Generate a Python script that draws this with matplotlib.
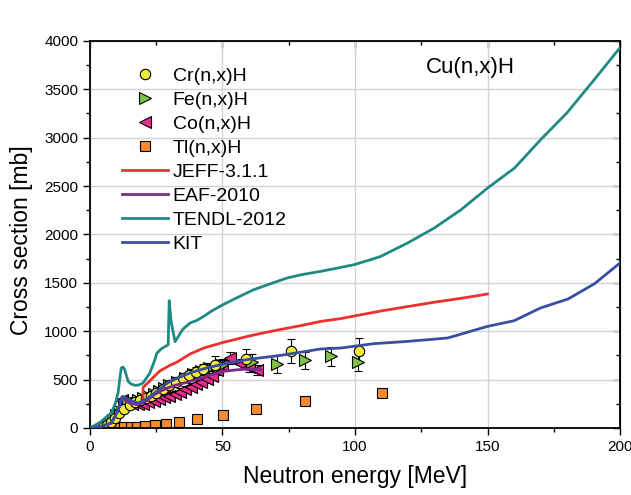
import numpy as np
import matplotlib
matplotlib.use("Agg")
import matplotlib.pyplot as plt
from matplotlib.lines import Line2D
from matplotlib.ticker import MultipleLocator

plt.rcParams['font.family'] = ['Liberation Sans', 'DejaVu Sans']

cr_e = [5, 6.5, 8, 9.5, 11, 13, 15, 17, 19, 21, 23, 25, 27.5, 30, 32.5, 35, 37.5, 40, 42.5, 47, 59, 76, 101.5]
cr_y = [10, 30, 60, 100, 150, 200, 240, 270, 290, 310, 335, 365, 400, 440, 480, 515, 545, 580, 610, 655, 715, 795, 800]
cr_err = [5, 5, 8, 10, 15, 20, 20, 25, 25, 25, 30, 30, 35, 35, 40, 40, 45, 45, 50, 90, 100, 125, 125]

fe_e = [7, 8.5, 10, 11.5, 13, 14.5, 16, 18, 20, 22, 24, 26, 28, 30, 33, 36, 39, 42, 45, 50, 61, 70.6, 81, 91, 101]
fe_y = [40, 80, 130, 180, 220, 250, 270, 290, 310, 330, 350, 380, 410, 440, 480, 520, 560, 590, 620, 650, 685, 660, 700, 740, 685]
fe_err = [5, 8, 12, 15, 20, 20, 20, 25, 25, 25, 30, 30, 35, 35, 40, 40, 45, 45, 50, 60, 80, 90, 90, 95, 95]

co_e = [12, 14, 16, 18, 20, 22, 24, 26, 28, 30, 32, 34, 36, 38, 40, 42, 44, 46, 48, 50, 53, 57, 60, 63]
co_y = [290, 265, 250, 245, 250, 265, 280, 295, 315, 335, 355, 375, 400, 425, 455, 480, 505, 540, 600, 650, 722, 660, 625, 600]
co_err = [20, 20, 20, 20, 20, 25, 25, 25, 30, 30, 30, 35, 35, 35, 40, 40, 40, 45, 50, 55, 60, 50, 50, 50]

tl_e = [10.3, 12.8, 15.3, 17.8, 20.8, 24.4, 28.6, 33.5, 40.4, 50.3, 62.6, 81, 110]
tl_y = [3, 5, 8, 12, 18, 27, 45, 62, 88, 130, 196, 275, 362]
tl_err = [1, 1, 2, 2, 3, 3, 5, 20, 22, 25, 20, 20, 20]

# evaluated data
jeff_e = [20, 20.05, 22, 24.5, 26.4, 30, 32.8, 37.8, 42.9, 50.2, 60, 68.1, 80, 87, 94.6, 100.3, 110, 120, 130, 140, 150]
jeff_y = [290, 420, 470, 540, 590, 645, 680, 765, 826, 884, 950, 998, 1060, 1101, 1130, 1160, 1210, 1255, 1300, 1340, 1384]

eaf_e = [0, 4.3, 8.1, 10.6, 12, 13.5, 15, 18, 21.4, 24, 27.7, 32, 37.8, 44, 50.4, 55, 59.3, 62, 64.3]
eaf_y = [0, 17, 50, 180, 320, 280, 255, 240, 280, 340, 396, 440, 481, 535, 585, 600, 609, 606, 602]

tendl_e = [0, 2, 4.3, 6, 8.1, 9.5, 10.6, 11.3, 11.8, 12.5, 13.1, 14.4, 15.5, 17, 18.5, 20, 21.4, 22.6,
           24.5, 25.2, 27, 29.5, 29.9, 30.6, 32.1, 35, 37.8, 40.2, 42.9, 46, 50.2, 55, 61.8, 67, 74.4,
           80, 87, 93, 99.6, 105.9, 109.7, 119.8, 129.9, 140, 150, 160.2, 170, 180, 190, 200]
tendl_y = [0, 30, 68, 110, 155, 250, 362, 520, 620, 630, 602, 481, 455, 440, 445, 465, 520, 568,
           706, 772, 820, 860, 1316, 1100, 892, 1020, 1085, 1110, 1153, 1210, 1274, 1340, 1429, 1480, 1550,
           1585, 1618, 1650, 1687, 1739, 1773, 1911, 2066, 2255, 2479, 2686, 2978, 3257, 3590, 3930]

kit_e = [0, 4.3, 8.1, 10.6, 12.5, 14.4, 18.2, 21.9, 25.7, 29.5, 33, 37.8, 44, 50.3, 60, 71.9, 87, 94.6,
         107, 120, 135, 150, 160, 170, 180.4, 190.4, 200]
kit_y = [0, 17, 52, 189, 327, 292, 258, 310, 390, 470, 515, 570, 620, 660, 710, 750, 816, 826,
         871, 895, 930, 1050, 1108, 1240, 1333, 1491, 1705]

c_cr = '#F2EA3A'
c_fe = '#7DC243'
c_co = '#EC2A8C'
c_tl = '#F58A2E'
c_jeff = '#EF3030'
c_eaf = '#7E2A8C'
c_tendl = '#1F8A84'
c_kit = '#3A4EA2'

fig = plt.figure(figsize=(6.31, 4.95), dpi=100)
ax = fig.add_axes([0.1426, 0.1354, 0.84, 0.782])

ebkw = dict(linestyle='none', ecolor='black', elinewidth=0.8, capsize=3, capthick=0.8,
            markeredgecolor='black', markeredgewidth=0.8, zorder=2)
ax.errorbar(tl_e, tl_y, yerr=tl_err, marker='s', markersize=7, markerfacecolor=c_tl, **ebkw)
ax.errorbar(co_e, co_y, yerr=co_err, marker='<', markersize=8, markerfacecolor=c_co, **ebkw)
ax.errorbar(fe_e, fe_y, yerr=fe_err, marker='>', markersize=8, markerfacecolor=c_fe, **ebkw)
ax.errorbar(cr_e, cr_y, yerr=cr_err, marker='o', markersize=7.5, markerfacecolor=c_cr, **ebkw)

lw = 2.0
ax.plot(jeff_e, jeff_y, color=c_jeff, lw=lw, zorder=3)
ax.plot(eaf_e, eaf_y, color=c_eaf, lw=lw, zorder=3)
ax.plot(tendl_e, tendl_y, color=c_tendl, lw=lw, zorder=3)
ax.plot(kit_e, kit_y, color=c_kit, lw=lw, zorder=4)

ax.set_xlim(0, 200)
ax.set_ylim(0, 4000)
ax.xaxis.set_major_locator(MultipleLocator(50))
ax.xaxis.set_minor_locator(MultipleLocator(25))
ax.yaxis.set_major_locator(MultipleLocator(500))
ax.yaxis.set_minor_locator(MultipleLocator(250))
ax.grid(True, which='major', color='#D3D3D3', lw=1.0, zorder=0)
ax.set_axisbelow(True)
ax.tick_params(which='major', direction='out', length=5, width=1, labelsize=11, colors='black')
ax.tick_params(which='minor', direction='out', length=3, width=1)
for s in ax.spines.values():
    s.set_linewidth(1.3)

# top / right ticks point inwards
top = ax.secondary_xaxis('top')
top.xaxis.set_major_locator(MultipleLocator(50))
top.xaxis.set_minor_locator(MultipleLocator(25))
top.tick_params(which='major', direction='in', length=5, width=1, labeltop=False)
top.tick_params(which='minor', direction='in', length=3, width=1)
right = ax.secondary_yaxis('right')
right.yaxis.set_major_locator(MultipleLocator(500))
right.yaxis.set_minor_locator(MultipleLocator(250))
right.tick_params(which='major', direction='in', length=5, width=1, labelright=False)
right.tick_params(which='minor', direction='in', length=3, width=1)

ax.set_xlabel('Neutron energy [MeV]', fontsize=16.5, labelpad=8)
ax.set_ylabel('Cross section [mb]', fontsize=16.5)
ax.yaxis.set_label_coords(-0.108, 0.486)
ax.text(0.634, 0.93, 'Cu(n,x)H', transform=ax.transAxes, fontsize=16, va='center', ha='left')

handles = [
    Line2D([], [], ls='none', marker='o', markersize=7.5, mfc=c_cr, mec='black', mew=0.8),
    Line2D([], [], ls='none', marker='>', markersize=8, mfc=c_fe, mec='black', mew=0.8),
    Line2D([], [], ls='none', marker='<', markersize=8, mfc=c_co, mec='black', mew=0.8),
    Line2D([], [], ls='none', marker='s', markersize=7, mfc=c_tl, mec='black', mew=0.8),
    Line2D([], [], color=c_jeff, lw=lw),
    Line2D([], [], color=c_eaf, lw=lw),
    Line2D([], [], color=c_tendl, lw=lw),
    Line2D([], [], color=c_kit, lw=lw),
]
labels = ['Cr(n,x)H', 'Fe(n,x)H', 'Co(n,x)H', 'Tl(n,x)H', 'JEFF-3.1.1', 'EAF-2010', 'TENDL-2012', 'KIT']
ax.legend(handles, labels, loc='upper left', bbox_to_anchor=(0.035, 0.967), frameon=False,
          fontsize=14, handlelength=2.35, handletextpad=0.25, labelspacing=0.33, borderpad=0.2)

fig.savefig('out.png', dpi=100)
plt.close(fig)
